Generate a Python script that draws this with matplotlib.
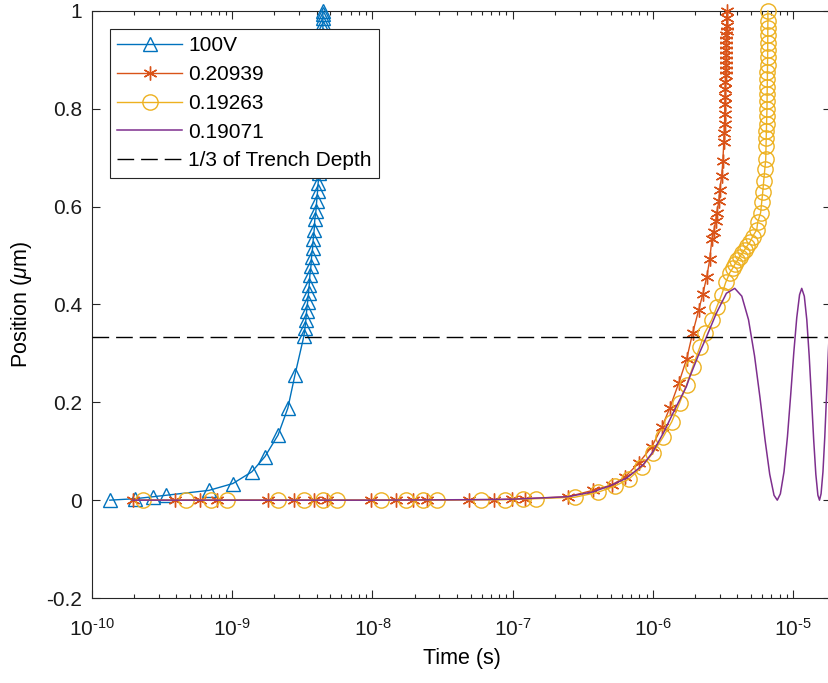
import matplotlib
matplotlib.use("Agg")
import matplotlib.pyplot as plt
from matplotlib.ticker import LogLocator, FixedLocator, FuncFormatter, NullFormatter
import numpy as np

plt.rcParams['font.family'] = ['Liberation Sans', 'DejaVu Sans']
plt.rcParams['mathtext.fontset'] = 'custom'
plt.rcParams['mathtext.rm'] = 'Liberation Sans'
plt.rcParams['mathtext.it'] = 'Liberation Sans:italic'
plt.rcParams['axes.unicode_minus'] = False

# 100V (triangles)
t_100v = [1.34e-10, 2.03e-10, 2.72e-10, 3.37e-10, 6.82e-10, 1.01e-9, 1.38e-9, 1.71e-9,
          2.12e-9, 2.49e-9, 2.80e-9, 3.24e-9, 3.30e-9, 3.35e-9, 3.39e-9, 3.45e-9, 3.50e-9,
          3.54e-9, 3.58e-9, 3.64e-9, 3.68e-9, 3.74e-9, 3.78e-9, 3.84e-9, 3.88e-9, 3.95e-9,
          4.00e-9, 4.06e-9, 4.10e-9, 4.17e-9, 4.20e-9, 4.23e-9, 4.26e-9, 4.29e-9, 4.31e-9,
          4.33e-9, 4.35e-9, 4.37e-9, 4.39e-9, 4.40e-9, 4.41e-9, 4.42e-9, 4.43e-9, 4.43e-9,
          4.43e-9, 4.43e-9, 4.43e-9, 4.43e-9, 4.43e-9]
y_100v = [0.0, 0.003, 0.007, 0.010, 0.020, 0.034, 0.058, 0.089,
          0.133, 0.188, 0.256, 0.335, 0.352, 0.369, 0.386, 0.406, 0.423,
          0.440, 0.461, 0.478, 0.498, 0.515, 0.533, 0.553, 0.574, 0.591,
          0.611, 0.632, 0.649, 0.669, 0.69, 0.71, 0.73, 0.75, 0.77,
          0.79, 0.81, 0.83, 0.85, 0.87, 0.89, 0.91, 0.93, 0.95,
          0.965, 0.975, 0.985, 0.993, 1.0]

# 0.20939 (asterisks)
t_209 = [1.96e-10, 3.91e-10, 5.89e-10, 7.78e-10, 1.80e-9, 2.75e-9, 3.82e-9, 4.73e-9,
         9.74e-9, 1.47e-8, 1.94e-8, 2.44e-8, 4.87e-8, 7.33e-8, 9.85e-8, 1.22e-7,
         2.47e-7, 3.72e-7, 5.08e-7, 6.30e-7, 7.92e-7, 9.80e-7, 1.16e-6, 1.32e-6,
         1.53e-6, 1.74e-6, 1.92e-6, 2.12e-6, 2.27e-6, 2.42e-6, 2.54e-6, 2.63e-6,
         2.71e-6, 2.80e-6, 2.85e-6, 2.95e-6, 2.99e-6, 3.09e-6, 3.15e-6, 3.20e-6,
         3.22e-6, 3.24e-6, 3.25e-6, 3.26e-6, 3.27e-6, 3.28e-6, 3.29e-6, 3.30e-6,
         3.31e-6, 3.31e-6, 3.32e-6, 3.32e-6, 3.33e-6, 3.33e-6, 3.34e-6, 3.34e-6,
         3.35e-6, 3.35e-6, 3.36e-6, 3.36e-6]
y_209 = [0.0, 0.0, 0.0, 0.0, 0.0, 0.0, 0.0, 0.0,
         0.0, 0.0, 0.0, 0.0, 0.001, 0.001, 0.002, 0.003,
         0.007, 0.020, 0.031, 0.047, 0.076, 0.109, 0.150, 0.189,
         0.240, 0.289, 0.342, 0.389, 0.422, 0.457, 0.492, 0.533,
         0.549, 0.570, 0.588, 0.611, 0.635, 0.662, 0.693, 0.732,
         0.75, 0.77, 0.79, 0.81, 0.825, 0.84, 0.855, 0.87,
         0.88, 0.89, 0.90, 0.91, 0.92, 0.93, 0.94, 0.95,
         0.96, 0.97, 0.985, 1.0]

# 0.19263 (circles)
t_193 = [2.31e-10, 4.68e-10, 7.05e-10, 9.17e-10, 2.12e-9, 3.24e-9, 4.43e-9, 5.57e-9,
         1.15e-8, 1.73e-8, 2.29e-8, 2.88e-8, 5.93e-8, 8.79e-8, 1.18e-7, 1.46e-7,
         2.77e-7, 4.05e-7, 5.35e-7, 6.73e-7, 8.33e-7, 9.97e-7, 1.18e-6, 1.36e-6,
         1.55e-6, 1.74e-6, 1.92e-6, 2.16e-6, 2.34e-6, 2.63e-6, 2.85e-6, 3.09e-6,
         3.30e-6, 3.53e-6, 3.70e-6, 3.83e-6, 4.0e-6, 4.16e-6, 4.33e-6, 4.51e-6,
         4.70e-6, 4.90e-6, 5.14e-6, 5.50e-6, 5.58e-6, 5.86e-6, 5.96e-6, 6.06e-6,
         6.16e-6, 6.27e-6, 6.37e-6, 6.40e-6, 6.42e-6, 6.44e-6, 6.46e-6, 6.48e-6,
         6.50e-6, 6.51e-6, 6.52e-6, 6.53e-6, 6.54e-6, 6.55e-6, 6.56e-6, 6.57e-6,
         6.58e-6, 6.58e-6, 6.59e-6, 6.59e-6, 6.60e-6, 6.60e-6]
y_193 = [0.0, 0.0, 0.0, 0.0, 0.0, 0.0, 0.0, 0.0,
         0.0, 0.0, 0.0, 0.0, 0.001, 0.001, 0.002, 0.003,
         0.006, 0.016, 0.029, 0.043, 0.068, 0.096, 0.129, 0.160,
         0.199, 0.236, 0.272, 0.313, 0.342, 0.369, 0.395, 0.420,
         0.445, 0.465, 0.474, 0.482, 0.490, 0.498, 0.505, 0.512,
         0.520, 0.527, 0.539, 0.553, 0.568, 0.588, 0.609, 0.629,
         0.652, 0.676, 0.697, 0.723, 0.74, 0.755, 0.77, 0.785,
         0.80, 0.815, 0.83, 0.845, 0.86, 0.875, 0.89, 0.905,
         0.92, 0.935, 0.95, 0.965, 0.98, 1.0]

# 0.19071 (plain line)
t_191 = [1.96e-10, 1e-9, 1e-8, 5e-8, 1e-7, 2.47e-7, 3.74e-7, 5e-7, 6.47e-7, 8.5e-7,
         1.0e-6, 1.2e-6, 1.39e-6, 1.73e-6, 1.83e-6, 2.1e-6, 2.41e-6, 2.84e-6, 3.34e-6,
         3.83e-6, 4.3e-6, 4.8e-6, 5.3e-6, 5.8e-6, 6.3e-6, 6.8e-6, 7.3e-6, 7.7e-6,
         8.1e-6, 8.6e-6, 9.1e-6, 9.6e-6, 1.01e-5, 1.06e-5, 1.11e-5, 1.15e-5, 1.20e-5,
         1.25e-5, 1.30e-5, 1.35e-5, 1.40e-5, 1.45e-5, 1.50e-5, 1.54e-5, 1.58e-5,
         1.63e-5, 1.68e-5, 1.73e-5, 1.78e-5, 1.83e-5, 1.87e-5]
y_191 = [0.0, 0.0, 0.0, 0.001, 0.002, 0.007, 0.017, 0.030, 0.045, 0.072,
         0.099, 0.140, 0.178, 0.232, 0.252, 0.295, 0.334, 0.383, 0.423,
         0.433, 0.417, 0.369, 0.295, 0.209, 0.123, 0.053, 0.010, 0.0,
         0.013, 0.058, 0.130, 0.216, 0.302, 0.373, 0.420, 0.433, 0.417,
         0.369, 0.295, 0.209, 0.123, 0.053, 0.010, 0.0, 0.013,
         0.058, 0.130, 0.216, 0.302, 0.373, 0.409]

trench = 1 / 3
labels = ['100V', '0.20939', '0.19263', '0.19071', '1/3 of Trench Depth']


def log_label(v, pos):
    e = int(round(np.log10(v)))
    return r'$10^{\mathregular{' + str(e).replace('-', '\u2010') + '}}$'


fig = plt.figure(figsize=(8.29, 6.83), dpi=100)
ax = fig.add_axes([92 / 829, 1 - 598 / 683, 739 / 829, 587 / 683])

ax.plot(t_100v, y_100v, '-', color='#0072BD', marker='^', ms=10.5, mfc='none',
        mew=1.0, lw=1.0, clip_on=False, label=labels[0], zorder=3)
ax.plot(t_209, y_209, '-', color='#D95319', marker=(6, 2, 0), ms=10, mew=1.0,
        lw=1.0, clip_on=False, label=labels[1], zorder=3)
ax.plot(t_193, y_193, '-', color='#EDB120', marker='o', ms=11, mfc='none',
        mew=1.0, lw=1.0, clip_on=False, label=labels[2], zorder=3)
ax.plot(t_191, y_191, '-', color='#7E2F8E', lw=1.1, label=labels[3], zorder=3)
ax.axhline(trench, color='black', lw=1.0, dashes=(12, 5), label=labels[4], zorder=4)

ax.set_xscale('log')
ax.set_xlim(1e-10, 1.86e-5)
ax.set_ylim(-0.2, 1.0)

ax.xaxis.set_major_locator(LogLocator(base=10, numticks=20))
ax.xaxis.set_major_formatter(FuncFormatter(log_label))
ax.xaxis.set_minor_locator(LogLocator(base=10, subs=range(2, 10), numticks=20))
ax.xaxis.set_minor_formatter(NullFormatter())
ax.yaxis.set_major_locator(FixedLocator([-0.2, 0, 0.2, 0.4, 0.6, 0.8, 1.0]))
ax.yaxis.set_major_formatter(FuncFormatter(lambda v, p: '%g' % round(v, 2)))

axcol = '#262626'
for s in ax.spines.values():
    s.set_color(axcol)
    s.set_linewidth(0.8)
ax.tick_params(which='both', direction='in', top=True, right=True, colors=axcol,
               labelcolor='#1a1a1a', labelsize=15, width=0.8)
ax.tick_params(which='major', length=6)
ax.tick_params(which='minor', length=3)
ax.tick_params(axis='x', pad=14)
ax.tick_params(axis='y', pad=7)

ax.set_xlabel('Time (s)', fontsize=15.5, labelpad=6)
ax.set_ylabel(r'Position ($\mu$m)', fontsize=15.5, labelpad=9)

leg = ax.legend(loc='upper left', bbox_to_anchor=(18 / 739, 1 - 18 / 587),
                borderaxespad=0, fontsize=15, handlelength=3.1, handletextpad=0.3,
                labelspacing=0.47, borderpad=0.35, fancybox=False, framealpha=1,
                edgecolor=axcol)
leg.get_frame().set_linewidth(0.8)

fig.savefig('out.png', dpi=100)
